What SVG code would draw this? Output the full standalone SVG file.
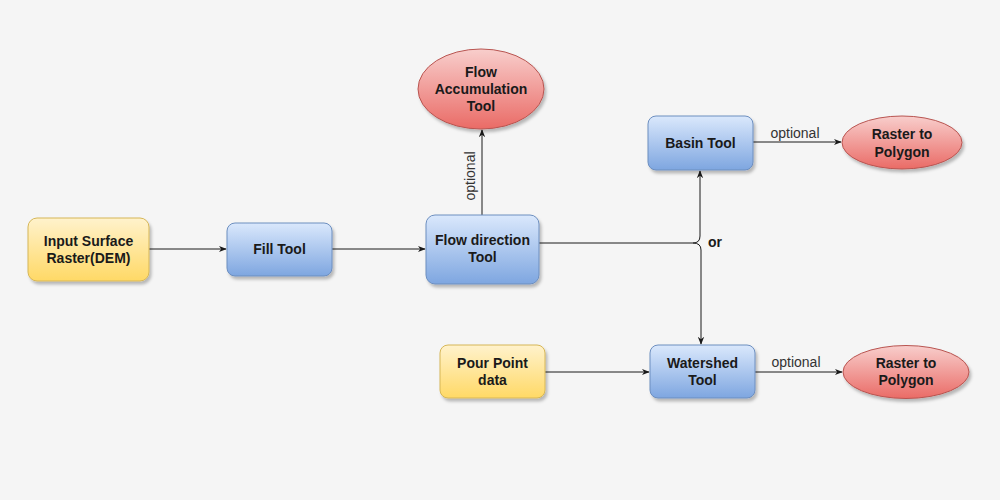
<svg xmlns="http://www.w3.org/2000/svg" width="1000" height="500" viewBox="0 0 1000 500">
<style>
.t{font-family:"Liberation Sans",Arial,sans-serif;font-size:14px;font-weight:bold;fill:#1a1a1a;text-anchor:middle}
.l{font-family:"Liberation Sans",Arial,sans-serif;font-size:14px;fill:#333;text-anchor:middle}
.e{fill:none;stroke:#1a1a1a;stroke-width:1}
.y{fill:url(#gy);stroke:#d6b656;stroke-width:1}
.b{fill:url(#gb);stroke:#6c8ebf;stroke-width:1}
.r{fill:url(#gr);stroke:#b85450;stroke-width:1}
</style>
<defs>
<linearGradient id="gy" x1="0" y1="0" x2="0" y2="1"><stop offset="0" stop-color="#fff2cc"/><stop offset="1" stop-color="#ffd966"/></linearGradient>
<linearGradient id="gb" x1="0" y1="0" x2="0" y2="1"><stop offset="0" stop-color="#dae8fc"/><stop offset="1" stop-color="#7ea6e0"/></linearGradient>
<linearGradient id="gr" x1="0" y1="0" x2="0" y2="1"><stop offset="0" stop-color="#f8cecc"/><stop offset="1" stop-color="#ea6b66"/></linearGradient>
<filter id="sh" x="-20%" y="-20%" width="150%" height="150%"><feDropShadow dx="2" dy="3" stdDeviation="1.5" flood-color="#000" flood-opacity="0.25"/></filter>
<marker id="a" viewBox="0 0 10 10" refX="9" refY="5" markerWidth="8" markerHeight="8" orient="auto" markerUnits="userSpaceOnUse"><path d="M0,1 L10,5 L0,9 L3,5 Z" fill="#1a1a1a"/></marker>
</defs>
<rect width="1000" height="500" fill="#f5f5f5"/>
<g id="connectors">
<path class="e" d="M149,249 H226" marker-end="url(#a)"/>
<path class="e" d="M332,249 H425" marker-end="url(#a)"/>
<path class="e" d="M482,215 V130" marker-end="url(#a)"/>
<text class="l" transform="translate(475,176) rotate(-90)">optional</text>
<path class="e" d="M539,243 H693 Q700,243 700,236 V171" marker-end="url(#a)"/>
<path class="e" d="M693,243 Q701,243 701,250 V344" marker-end="url(#a)"/>
<text class="t" x="715" y="247">or</text>
<path class="e" d="M753,142 H841" marker-end="url(#a)"/>
<text class="l" x="795" y="138">optional</text>
<path class="e" d="M755,372 H842" marker-end="url(#a)"/>
<text class="l" x="796" y="367">optional</text>
<path class="e" d="M545,372 H649" marker-end="url(#a)"/>
</g>
<g id="input" filter="url(#sh)"><rect class="y" x="28" y="218" width="121" height="63" rx="9"/></g>
<text class="t" x="88.5" y="246">Input Surface</text><text class="t" x="88.5" y="263">Raster(DEM)</text>
<g id="fill" filter="url(#sh)"><rect class="b" x="227" y="223" width="105" height="53" rx="8"/></g>
<text class="t" x="279.5" y="254">Fill Tool</text>
<g id="flowdir" filter="url(#sh)"><rect class="b" x="426" y="215" width="113" height="69" rx="9"/></g>
<text class="t" x="482.5" y="245">Flow direction</text><text class="t" x="482.5" y="262">Tool</text>
<g id="flowacc" filter="url(#sh)"><ellipse class="r" cx="481" cy="89" rx="63" ry="40"/></g>
<text class="t" x="481" y="77">Flow</text><text class="t" x="481" y="94">Accumulation</text><text class="t" x="481" y="111">Tool</text>
<g id="basin" filter="url(#sh)"><rect class="b" x="648" y="116" width="105" height="54" rx="8"/></g>
<text class="t" x="700.5" y="148">Basin Tool</text>
<g id="rtp1" filter="url(#sh)"><ellipse class="r" cx="902" cy="142.5" rx="60" ry="26.5"/></g>
<text class="t" x="902" y="139">Raster to</text><text class="t" x="902" y="157">Polygon</text>
<g id="watershed" filter="url(#sh)"><rect class="b" x="650" y="345" width="105" height="53" rx="8"/></g>
<text class="t" x="702.5" y="368">Watershed</text><text class="t" x="702.5" y="385">Tool</text>
<g id="rtp2" filter="url(#sh)"><ellipse class="r" cx="906" cy="372" rx="63" ry="26.5"/></g>
<text class="t" x="906" y="368">Raster to</text><text class="t" x="906" y="385">Polygon</text>
<g id="pour" filter="url(#sh)"><rect class="y" x="440" y="345" width="105" height="53" rx="8"/></g>
<text class="t" x="492.5" y="368">Pour Point</text><text class="t" x="492.5" y="385">data</text>
</svg>
